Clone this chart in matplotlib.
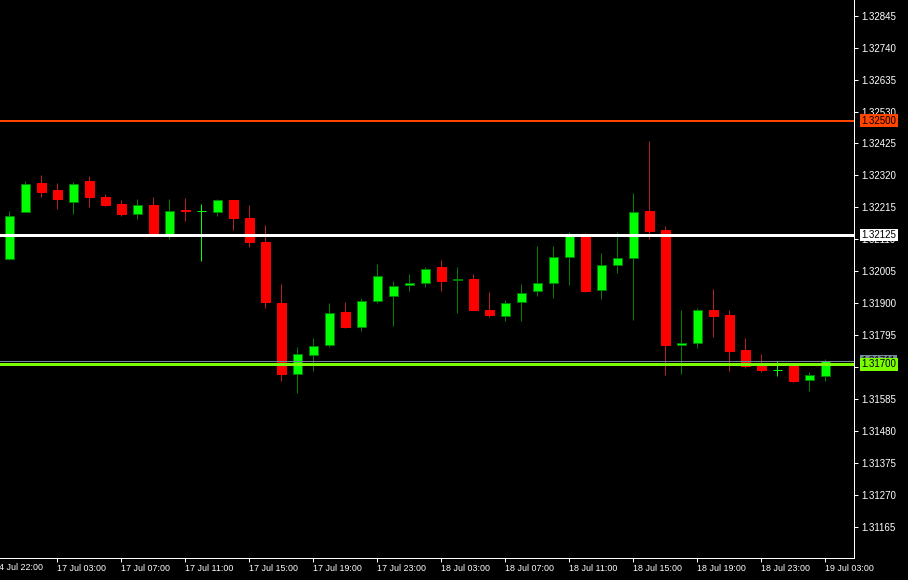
import matplotlib
matplotlib.use("Agg")
import matplotlib.pyplot as plt

plt.rcParams["font.family"] = ["Liberation Sans", "DejaVu Sans"]

# ---- data (hourly OHLC) ----
opens = [1.32045, 1.32200, 1.32294, 1.32271, 1.32233, 1.32301, 1.32251, 1.32228,
         1.32193, 1.32222, 1.32127, 1.32208, 1.32205, 1.32201, 1.32238, 1.32182,
         1.32103, 1.31903, 1.31670, 1.31731, 1.31764, 1.31873, 1.31822, 1.31908,
         1.31925, 1.31961, 1.31968, 1.32018, 1.31978, 1.31979, 1.31880, 1.31858,
         1.31904, 1.31940, 1.31966, 1.32052, 1.32123, 1.31943, 1.32026, 1.32049,
         1.32205, 1.32140, 1.31764, 1.31769, 1.31880, 1.31863, 1.31748, 1.31696,
         1.31682, 1.31696, 1.31649, 1.31662]
highs = [1.32205, 1.32301, 1.32321, 1.32294, 1.32298, 1.32317, 1.32258, 1.32238,
         1.32242, 1.32248, 1.32242, 1.32245, 1.32225, 1.32242, 1.32240, 1.32222,
         1.32156, 1.31965, 1.31758, 1.31787, 1.31903, 1.31906, 1.31919, 1.32031,
         1.31975, 1.31995, 1.32021, 1.32044, 1.32018, 1.31998, 1.31939, 1.31910,
         1.31965, 1.32090, 1.32087, 1.32133, 1.32130, 1.32064, 1.32133, 1.32261,
         1.32432, 1.32153, 1.31877, 1.31886, 1.31946, 1.31877, 1.31785, 1.31735,
         1.31711, 1.31702, 1.31676, 1.31719]
lows = [1.32044, 1.32199, 1.32248, 1.32209, 1.32193, 1.32215, 1.32219, 1.32186,
        1.32176, 1.32127, 1.32110, 1.32169, 1.32038, 1.32186, 1.32140, 1.32085,
        1.31884, 1.31644, 1.31605, 1.31679, 1.31756, 1.31818, 1.31811, 1.31900,
        1.31825, 1.31942, 1.31953, 1.31942, 1.31870, 1.31877, 1.31857, 1.31841,
        1.31841, 1.31926, 1.31917, 1.31962, 1.31939, 1.31913, 1.31999, 1.31844,
        1.32110, 1.31666, 1.31670, 1.31754, 1.31791, 1.31679, 1.31687, 1.31674,
        1.31661, 1.31643, 1.31614, 1.31644]
closes = [1.32186, 1.32291, 1.32265, 1.32242, 1.32291, 1.32251, 1.32222, 1.32192,
          1.32222, 1.32130, 1.32205, 1.32205, 1.32205, 1.32238, 1.32180, 1.32101,
          1.31904, 1.31670, 1.31734, 1.31761, 1.31869, 1.31822, 1.31908, 1.31991,
          1.31958, 1.31968, 1.32014, 1.31973, 1.31981, 1.31880, 1.31861, 1.31902,
          1.31935, 1.31968, 1.32053, 1.32123, 1.31942, 1.32027, 1.32050, 1.32201,
          1.32137, 1.31762, 1.31770, 1.31879, 1.31860, 1.31743, 1.31693, 1.31680,
          1.31682, 1.31644, 1.31665, 1.31711]

time_tick_pos = [-1, 3, 7, 11, 15, 19, 23, 27, 31, 35, 39, 43, 47, 51]
time_tick_labels = ["14 Jul 22:00", "17 Jul 03:00", "17 Jul 07:00", "17 Jul 11:00",
                    "17 Jul 15:00", "17 Jul 19:00", "17 Jul 23:00", "18 Jul 03:00",
                    "18 Jul 07:00", "18 Jul 11:00", "18 Jul 15:00", "18 Jul 19:00",
                    "18 Jul 23:00", "19 Jul 03:00"]

price_ticks = [1.31165, 1.31270, 1.31375, 1.31480, 1.31585, 1.31690, 1.31795, 1.31900,
               1.32005, 1.32110, 1.32215, 1.32320, 1.32425, 1.32530, 1.32635, 1.32740,
               1.32845]

levels = [1.32500, 1.32125, 1.31700]
level_colors = ["#FF4500", "#FFFFFF", "#7CFC00"]
level_widths_px = [2, 3, 3]
bid_price = 1.31711

# ---- styling ----
DPI = 100
PX = 72.0 / DPI
BULL_FILL, BULL_EDGE = "#00FF00", "#008000"
BEAR_FILL, BEAR_EDGE, BEAR_WICK = "#FF0000", "#FF0000", "#B22222"
DOJI = "#00FF00"
BODY_W = 0.58

fig = plt.figure(figsize=(9.08, 5.80), dpi=DPI, facecolor="black")
ax = fig.add_axes([0, 1 - 558 / 580, 853.5 / 908, 558 / 580], facecolor="black")
ax.set_xlim(-0.58, 52.76)
ax.set_ylim(1.310644, 1.32896)

for i, (o, h, l, c) in enumerate(zip(opens, highs, lows, closes)):
    if o == c:
        ax.vlines(i, l, h, color=DOJI, lw=PX, zorder=2)
        ax.hlines(o, i - BODY_W / 2, i + BODY_W / 2, color=DOJI, lw=PX, zorder=2)
        continue
    if c > o:
        fill, edge, wick = BULL_FILL, BULL_EDGE, BULL_EDGE
    else:
        fill, edge, wick = BEAR_FILL, BEAR_EDGE, BEAR_WICK
    ax.vlines(i, l, h, color=wick, lw=PX, zorder=2)
    ax.bar(i, abs(c - o), bottom=min(o, c), width=BODY_W, color=fill,
           edgecolor=edge, linewidth=PX, zorder=3)

# bid line
ax.axhline(bid_price, color="#778899", lw=PX, zorder=4)
# horizontal levels
for lv, col, w in zip(levels, level_colors, level_widths_px):
    ax.axhline(lv, color=col, lw=w * PX, zorder=5)

# axes / spines
for s in ("left", "top"):
    ax.spines[s].set_visible(False)
for s in ("right", "bottom"):
    ax.spines[s].set_color("white")
    ax.spines[s].set_linewidth(PX)

ax.yaxis.tick_right()
ax.set_yticks(price_ticks)
ax.set_yticklabels([f"{p:.5f}" for p in price_ticks])
ax.tick_params(axis="y", colors="white", length=3, width=PX, pad=2.5,
               labelsize=7, direction="out")

vis = [(p, t) for p, t in zip(time_tick_pos, time_tick_labels) if p >= 0]
ax.set_xticks([p for p, _ in vis])
ax.set_xticklabels([t for _, t in vis])
ax.tick_params(axis="x", colors="white", length=3, width=PX, pad=1,
               labelsize=6.4, direction="out")
for lbl in ax.get_xticklabels():
    lbl.set_horizontalalignment("left")
# the partly cut first time label
for p, t in zip(time_tick_pos, time_tick_labels):
    if p < 0:
        ax.annotate(t, xy=(p, 0), xycoords=("data", "axes fraction"),
                    xytext=(1, -5), textcoords="offset pixels", ha="left", va="top",
                    fontsize=6.4, color="white", annotation_clip=False)

# price labels on the right
ax.annotate(f"{bid_price:.5f}", xy=(1, bid_price), xycoords=("axes fraction", "data"),
            xytext=(8, 0), textcoords="offset pixels", ha="left", va="center",
            fontsize=7, color="black", annotation_clip=False, zorder=6,
            bbox=dict(boxstyle="square,pad=0.12", fc="#778899", ec="none"))
for lv, col in zip(levels, level_colors):
    ax.annotate(f"{lv:.5f}", xy=(1, lv), xycoords=("axes fraction", "data"),
                xytext=(8, 0), textcoords="offset pixels", ha="left", va="center",
                fontsize=7, color="black", annotation_clip=False, zorder=7,
                bbox=dict(boxstyle="square,pad=0.12", fc=col, ec="none"))

fig.savefig("out.png", dpi=DPI, facecolor="black")
